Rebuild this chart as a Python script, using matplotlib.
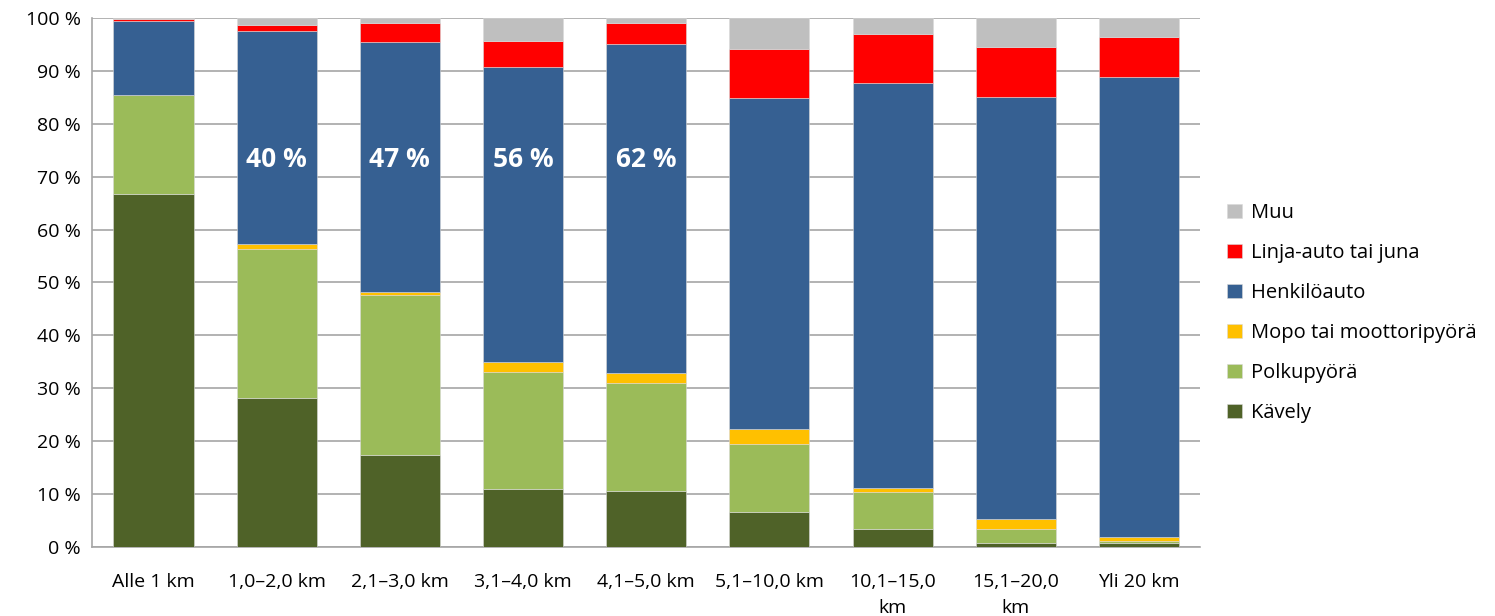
import numpy as np
import matplotlib.pyplot as plt

categories = ["Alle 1 km", "1,0–2,0 km", "2,1–3,0 km", "3,1–4,0 km", "4,1–5,0 km",
              "5,1–10,0 km", "10,1–15,0\nkm", "15,1–20,0\nkm", "Yli 20 km"]

kavely = [66.7, 28.2, 17.4, 11.0, 10.6, 6.6, 3.4, 0.8, 0.7]
polkupyora = [18.7, 28.2, 30.2, 22.1, 20.4, 12.9, 7.0, 2.6, 0.4]
mopo = [0.1, 0.8, 0.5, 1.9, 1.8, 2.8, 0.8, 1.9, 0.8]
henkiloauto = [14.0, 40.4, 47.3, 55.7, 62.2, 62.5, 76.5, 79.8, 87.0]
linja = [0.3, 1.1, 3.7, 4.9, 4.1, 9.4, 9.2, 9.4, 7.5]
muu = [0.2, 1.3, 0.9, 4.4, 0.9, 5.8, 3.1, 5.5, 3.6]

series = [
    ("Kävely", kavely, "#4f6228"),
    ("Polkupyörä", polkupyora, "#9bbb59"),
    ("Mopo tai moottoripyörä", mopo, "#ffc000"),
    ("Henkilöauto", henkiloauto, "#366092"),
    ("Linja-auto tai juna", linja, "#ff0000"),
    ("Muu", muu, "#bfbfbf"),
]

# henkilöauto share labels shown on bars 2-5
label_idx = [1, 2, 3, 4]
label_txt = ["40 %", "47 %", "56 %", "62 %"]

plt.rcParams['font.family'] = ['Open Sans', 'DejaVu Sans']

fig = plt.figure(figsize=(14.95, 6.16), dpi=100)
ax = fig.add_axes([0.0615, 0.112, 0.7415, 0.859])

x = np.arange(len(categories))
bottom = np.zeros(len(categories))
handles = []
for name, vals, col in series:
    b = ax.bar(x, vals, width=0.65, bottom=bottom, color=col, label=name,
               edgecolor="#d9d9d9", linewidth=0.4, zorder=3)
    handles.append(b)
    bottom += np.array(vals)

for i, t in zip(label_idx, label_txt):
    ax.text(x[i], 73.3, t, ha="center", va="center", color="white",
            fontsize=19, fontweight="bold", zorder=4)

ax.set_xlim(-0.5, len(categories) - 0.5)
ax.set_ylim(0, 100)
ax.set_yticks(np.arange(0, 101, 10))
ax.set_yticklabels([f"{v} %" for v in range(0, 101, 10)], fontsize=14)
ax.set_xticks(x)
ax.set_xticklabels(categories, fontsize=14, linespacing=1.55, va="top")
ax.tick_params(length=0, pad=8)
ax.tick_params(axis="x", pad=19)
ax.yaxis.grid(True, color="#a6a6a6", linewidth=1.2, zorder=0)
for s in ["top", "right"]:
    ax.spines[s].set_visible(False)
for s in ["left", "bottom"]:
    ax.spines[s].set_color("#a6a6a6")
    ax.spines[s].set_linewidth(1.2)

leg = ax.legend(handles[::-1], [s[0] for s in series][::-1], loc="center left",
                bbox_to_anchor=(1.008, 0.442), frameon=False, fontsize=14.5,
                handlelength=0.7, handleheight=0.7, handletextpad=0.45,
                labelspacing=1.0)

fig.savefig("out.png", dpi=100)
